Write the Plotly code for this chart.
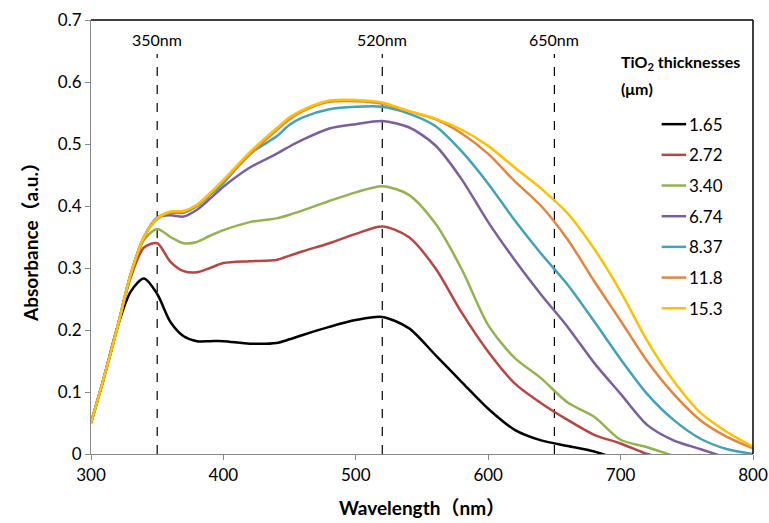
import plotly.graph_objects as go

# Wavelength grid (nm)
wavelength = [300, 310, 320, 330, 340, 350, 360, 370, 380, 390, 400, 420, 440, 450, 460, 480,
              500, 520, 540, 560, 580, 600, 620, 640, 660, 680, 700, 720, 740, 760, 780, 800]

# Absorbance spectra (a.u.) for each TiO2 film thickness (um)
abs_165 = [0.050, 0.125, 0.205, 0.262, 0.283, 0.258, 0.213, 0.190, 0.182, 0.182, 0.182, 0.178,
           0.179, 0.185, 0.192, 0.205, 0.216, 0.221, 0.203, 0.160, 0.116, 0.073, 0.039, 0.022,
           0.013, 0.004, -0.010, None, None, None, None, None]
abs_272 = [0.050, 0.125, 0.205, 0.285, 0.333, 0.340, 0.310, 0.295, 0.293, 0.300, 0.308, 0.311,
           0.313, 0.320, 0.327, 0.340, 0.355, 0.367, 0.350, 0.300, 0.228, 0.165, 0.114, 0.082,
           0.055, 0.031, 0.017, 0.000, -0.010, None, None, None]
abs_340 = [0.050, 0.125, 0.205, 0.290, 0.345, 0.363, 0.350, 0.340, 0.342, 0.352, 0.361, 0.374,
           0.380, 0.386, 0.393, 0.408, 0.422, 0.432, 0.418, 0.372, 0.298, 0.208, 0.155, 0.122,
           0.083, 0.060, 0.023, 0.011, -0.003, None, None, None]
abs_674 = [0.050, 0.125, 0.205, 0.290, 0.350, 0.381, 0.385, 0.383, 0.394, 0.412, 0.431, 0.462,
           0.484, 0.496, 0.507, 0.525, 0.532, 0.537, 0.527, 0.498, 0.443, 0.374, 0.313, 0.257,
           0.205, 0.147, 0.097, 0.047, 0.022, 0.008, -0.006, None]
abs_837 = [0.050, 0.125, 0.205, 0.290, 0.350, 0.381, 0.389, 0.389, 0.400, 0.418, 0.437, 0.484,
           0.512, 0.531, 0.543, 0.556, 0.560, 0.560, 0.549, 0.529, 0.488, 0.436, 0.377, 0.323,
           0.273, 0.214, 0.153, 0.097, 0.055, 0.025, 0.008, 0.000]
abs_118 = [0.050, 0.125, 0.205, 0.290, 0.350, 0.379, 0.390, 0.391, 0.401, 0.420, 0.440, 0.483,
           0.522, 0.540, 0.553, 0.568, 0.569, 0.565, 0.553, 0.540, 0.517, 0.484, 0.440, 0.400,
           0.346, 0.279, 0.215, 0.150, 0.097, 0.055, 0.028, 0.009]
abs_153 = [0.050, 0.125, 0.205, 0.290, 0.350, 0.380, 0.391, 0.392, 0.402, 0.421, 0.442, 0.487,
           0.525, 0.543, 0.555, 0.570, 0.571, 0.567, 0.553, 0.541, 0.523, 0.497, 0.462, 0.428,
           0.388, 0.331, 0.262, 0.183, 0.118, 0.067, 0.036, 0.012]

thickness_labels = ["1.65", "2.72", "3.40", "6.74", "8.37", "11.8", "15.3"]
series = [abs_165, abs_272, abs_340, abs_674, abs_837, abs_118, abs_153]
colors = ["#000000", "#B94541", "#93B34F", "#7B5E9E", "#40A2BB", "#E6843C", "#FFC000"]

# Reference wavelengths marked with dashed lines
marker_wavelengths = [350, 520, 650]
marker_labels = ["350nm", "520nm", "650nm"]

y_ticks = [0, 0.1, 0.2, 0.3, 0.4, 0.5, 0.6, 0.7]
y_tick_text = ["0", "0.1", "0.2", "0.3", "0.4", "0.5", "0.6", "0.7"]
x_ticks = [300, 400, 500, 600, 700, 800]

FONT = "Lato, 'Noto Sans CJK SC', sans-serif"

fig = go.Figure()
for label, vals, col in zip(thickness_labels, series, colors):
    fig.add_trace(go.Scatter(
        x=wavelength, y=vals, mode="lines", name=label, showlegend=False,
        line=dict(color=col, width=2.5, shape="spline", smoothing=0.8),
        connectgaps=False,
    ))

for wl, lab in zip(marker_wavelengths, marker_labels):
    fig.add_shape(type="line", xref="x", yref="y", x0=wl, x1=wl, y0=0, y1=0.645,
                  line=dict(color="black", width=1.2, dash="dash"), layer="below")
    fig.add_annotation(x=wl, y=0.668, xref="x", yref="y", text=lab, showarrow=False,
                       font=dict(size=16, color="black", family=FONT))

# Black frame on the top and right edges
fig.add_shape(type="line", xref="paper", yref="paper", x0=0, x1=1, y0=1, y1=1,
              line=dict(color="black", width=1.5))
fig.add_shape(type="line", xref="paper", yref="paper", x0=1, x1=1, y0=0, y1=1,
              line=dict(color="black", width=1.5))

# Legend: heading, then a short line sample and label per thickness
fig.add_annotation(xref="paper", yref="paper", x=0.797, y=0.903, xanchor="left", yanchor="middle",
                   showarrow=False, text="<b>TiO<sub>2</sub> thicknesses</b>",
                   font=dict(size=16, color="black", family=FONT))
fig.add_annotation(xref="paper", yref="paper", x=0.797, y=0.843, xanchor="left", yanchor="middle",
                   showarrow=False, text="<b>(μm)</b>",
                   font=dict(size=16, color="black", family=FONT))
legend_top = 0.760
legend_step = 0.0707
for i, (label, col) in enumerate(zip(thickness_labels, colors)):
    ly = legend_top - i * legend_step
    fig.add_shape(type="line", xref="paper", yref="paper", x0=0.862, x1=0.899, y0=ly, y1=ly,
                  line=dict(color=col, width=2.5))
    fig.add_annotation(xref="paper", yref="paper", x=0.901, y=ly, xanchor="left", yanchor="middle",
                       showarrow=False, text=label,
                       font=dict(size=17, color="black", family=FONT))

fig.update_layout(
    width=769, height=523,
    margin=dict(l=91, r=16, t=20, b=69),
    paper_bgcolor="white", plot_bgcolor="white",
    font=dict(family=FONT, color="black", size=16),
    showlegend=False,
    xaxis=dict(range=[300, 800], tickvals=x_ticks, showgrid=False, zeroline=False,
               showline=True, linecolor="#888888", linewidth=1.2, automargin=False,
               ticks="outside", ticklen=5, tickcolor="#888888",
               tickfont=dict(size=17, family=FONT),
               title=dict(text="<b>Wavelength（nm）</b>", font=dict(size=19, family=FONT), standoff=18)),
    yaxis=dict(range=[0, 0.7], tickvals=y_ticks, ticktext=y_tick_text, showgrid=False, zeroline=False,
               showline=True, linecolor="#888888", linewidth=1.2, automargin=False,
               ticks="outside", ticklen=5, tickcolor="#888888",
               tickfont=dict(size=17, family=FONT),
               title=dict(text="<b>Absorbance（a.u.）</b>", font=dict(size=19, family=FONT), standoff=14)),
)

fig.write_html("out.html")
